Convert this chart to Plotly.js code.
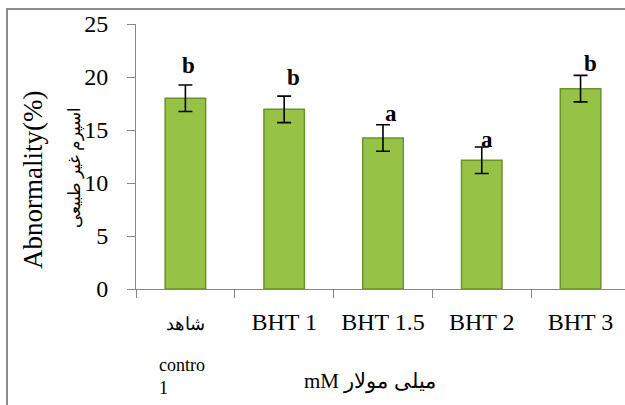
<!DOCTYPE html>
<html><head><meta charset="utf-8">
<script src="https://cdn.plot.ly/plotly-3.0.1.min.js"></script>
<style>html,body{margin:0;padding:0;background:#fff}#chart{width:625px;height:405px}</style>
</head><body><div id="chart"></div>
<script>
const categories = ['شاهد', 'BHT 1', 'BHT 1.5', 'BHT 2', 'BHT 3'];
const tickLabels = ['<span style="font-size:18px">شاهد</span>', 'BHT 1', 'BHT 1.5', 'BHT 2', 'BHT 3'];
const values = [18.0, 16.95, 14.25, 12.15, 18.9];
const errors = [1.25, 1.25, 1.25, 1.25, 1.25];
const letters = ['b', 'b', 'a', 'a', 'b'];
const letterY = [21.1, 20.0, 16.6, 14.15, 21.3];
const letterShift = [3, 9, 8, 5, 10];

const SERIF = '"Liberation Serif", "Times New Roman", Times, serif';
const pxX = px => (px - 136) / 489;
const pxY = py => (289 - py) / 265;

const trace = {
  type: 'bar', x: categories, y: values, width: 0.41,
  marker: {color: '#96c246', line: {color: '#6a922c', width: 1.5}},
  error_y: {type: 'data', array: errors, visible: true, color: '#000', thickness: 1.6, width: 7},
  hoverinfo: 'none'
};

const annotations = letters.map((t, i) => ({
  x: categories[i], y: letterY[i], xref: 'x', yref: 'y', text: '<b>' + t + '</b>',
  showarrow: false, xshift: letterShift[i],
  font: {family: SERIF, size: 23, color: '#000'}
}));
annotations.push({
  x: pxX(157), y: pxY(376), xref: 'paper', yref: 'paper', text: 'contro<br>1', showarrow: false,
  xanchor: 'left', yanchor: 'middle', align: 'left',
  font: {family: SERIF, size: 18, color: '#000'}
});
annotations.push({
  text: 'mM میلی مولار', xref: 'paper', yref: 'paper', x: pxX(370), y: pxY(381),
  showarrow: false, xanchor: 'center', yanchor: 'middle',
  font: {family: SERIF, size: 21, color: '#000'}
});
annotations.push({
  text: 'Abnormality(%)', xref: 'paper', yref: 'paper', x: pxX(33), y: pxY(180),
  showarrow: false, textangle: -90, xanchor: 'center', yanchor: 'middle',
  font: {family: SERIF, size: 27, color: '#000'}
});
annotations.push({
  text: 'اسپرم غیر طبیعی', xref: 'paper', yref: 'paper', x: pxX(75), y: pxY(167),
  showarrow: false, textangle: -90, xanchor: 'center', yanchor: 'middle',
  font: {family: SERIF, size: 17, color: '#000'}
});

const layout = {
  width: 625, height: 405,
  margin: {l: 136, r: 0, t: 24, b: 116},
  paper_bgcolor: '#fff', plot_bgcolor: '#fff',
  showlegend: false,
  xaxis: {
    type: 'category', range: [-0.5, 4.45], tickmode: 'array', tickvals: categories, ticktext: tickLabels,
    tickson: 'boundaries', ticks: 'outside', ticklen: 8, tickcolor: '#868686', tickwidth: 1,
    showline: true, linecolor: '#868686', linewidth: 1, showgrid: false, zeroline: false,
    ticklabelstandoff: 11,
    tickfont: {family: SERIF, size: 24, color: '#000'}
  },
  yaxis: {
    range: [0, 25], tickvals: [0, 5, 10, 15, 20, 25], ticks: 'outside', ticklen: 8,
    tickcolor: '#868686', showline: true, linecolor: '#868686', linewidth: 1,
    showgrid: false, zeroline: false, ticklabelstandoff: 14,
    tickfont: {family: SERIF, size: 24, color: '#000'}
  },
  annotations: annotations,
  shapes: [{
    type: 'rect', xref: 'paper', yref: 'paper',
    x0: pxX(7), x1: 1.05, y0: -0.6, y1: pxY(9),
    line: {color: '#8c8c8c', width: 2}, layer: 'below'
  }]
};
Plotly.newPlot('chart', [trace], layout, {staticPlot: true, displayModeBar: false});
</script></body></html>
